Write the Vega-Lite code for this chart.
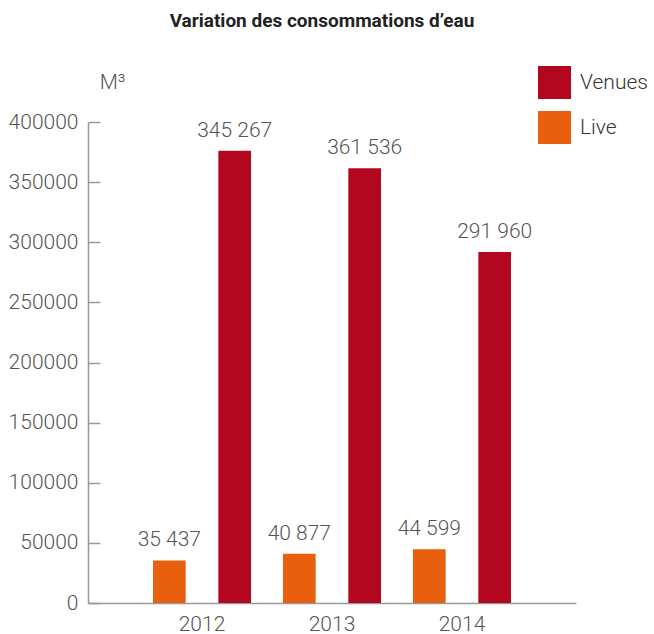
{
  "$schema": "https://vega.github.io/schema/vega-lite/v6.json",
  "autosize": "none",
  "width": 488,
  "height": 481,
  "padding": {"left": 88, "top": 122, "right": 78, "bottom": 31},
  "background": "white",
  "title": {
    "text": "Variation des consommations d’eau",
    "font": "Roboto",
    "fontSize": 19,
    "fontWeight": "bold",
    "color": "#222",
    "anchor": "middle",
    "frame": "group",
    "dx": -10,
    "offset": 35
  },
  "config": {
    "view": {"stroke": null},
    "font": "Roboto"
  },
  "data": {
    "values": [
      {"year": "2012", "type": "Live", "value": 35437, "label": "35 437"},
      {"year": "2012", "type": "Venues", "value": 376000, "label": "345 267"},
      {"year": "2013", "type": "Live", "value": 40877, "label": "40 877"},
      {"year": "2013", "type": "Venues", "value": 361536, "label": "361 536"},
      {"year": "2014", "type": "Live", "value": 44599, "label": "44 599"},
      {"year": "2014", "type": "Venues", "value": 291960, "label": "291 960"}
    ]
  },
  "encoding": {
    "x": {
      "field": "year",
      "type": "nominal",
      "scale": {"paddingInner": 0.246, "paddingOuter": 0.5},
      "axis": {
        "title": null,
        "labelAngle": 0,
        "ticks": false,
        "labelFontSize": 21,
        "labelFontWeight": 300,
        "labelColor": "#555",
        "labelPadding": 10,
        "domainColor": "#999",
        "domainWidth": 1.5
      }
    },
    "xOffset": {
      "field": "type",
      "type": "nominal",
      "sort": ["Live", "Venues"],
      "scale": {"paddingInner": 0.5, "paddingOuter": 0}
    },
    "y": {
      "field": "value",
      "type": "quantitative",
      "scale": {"domain": [0, 400000], "nice": false},
      "axis": {
        "title": "M³",
        "titleAngle": 0,
        "titleX": 24,
        "titleY": -34,
        "titleAlign": "center",
        "titleBaseline": "alphabetic",
        "titleFontSize": 21,
        "titleFontWeight": 300,
        "titleColor": "#555",
        "values": [0, 50000, 100000, 150000, 200000, 250000, 300000, 350000, 400000],
        "format": "d",
        "grid": true,
        "gridDash": [12, 1000],
        "gridColor": "#999",
        "gridWidth": 1.5,
        "gridOpacity": 1,
        "ticks": false,
        "domainColor": "#999",
        "domainWidth": 1.5,
        "labelFontSize": 21,
        "labelFontWeight": 300,
        "labelColor": "#555",
        "labelPadding": 10
      }
    }
  },
  "layer": [
    {
      "mark": {"type": "bar"},
      "encoding": {
        "color": {
          "field": "type",
          "type": "nominal",
          "scale": {"domain": ["Venues", "Live"], "range": ["#b2071f", "#e8600e"]},
          "legend": {
            "title": null,
            "orient": "none",
            "legendX": 450,
            "legendY": -56,
            "padding": 0,
            "symbolType": "square",
            "symbolSize": 1089,
            "symbolStrokeWidth": 0,
            "rowPadding": 12,
            "labelFontSize": 21,
            "labelFontWeight": 300,
            "labelColor": "#333",
            "labelOffset": 9
          }
        }
      }
    },
    {
      "mark": {"type": "text", "baseline": "alphabetic", "dy": -14, "fontSize": 21, "fontWeight": 300, "color": "#555"},
      "encoding": {
        "text": {"field": "label"}
      }
    }
  ]
}
